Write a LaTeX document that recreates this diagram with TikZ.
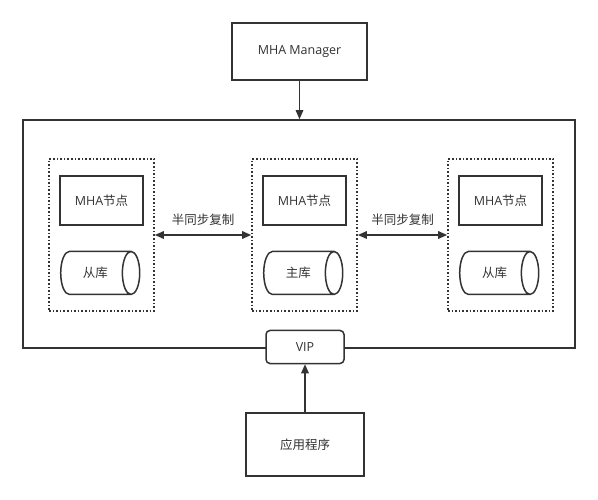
\documentclass[tikz,border=0pt]{standalone}
\usepackage{fontspec}
\setmainfont{Open Sans}
\newfontfamily\cjk{Noto Sans CJK SC}
\usepackage{tikz}
\usetikzlibrary{positioning,arrows.meta,shapes.geometric}
\definecolor{line1}{HTML}{333333}
\definecolor{text1}{HTML}{333333}

\begin{document}
\begin{tikzpicture}[
    x=1pt, y=-1pt,
    >={Triangle[length=9pt,width=7.5pt]},
    every node/.style={font=\fontsize{12.5}{14}\selectfont, text=text1},
    box/.style={draw=line1, line width=1.5pt, fill=white},
    nodebox/.style={box, minimum width=83pt, minimum height=49pt},
    dbcyl/.style={cylinder, draw=line1, line width=1.5pt, aspect=1.5,
                  minimum width=43pt, minimum height=79pt, inner sep=0pt,
                  xshift=-6pt},
    grp/.style={draw=line1, dotted, line width=1.6pt,
                minimum width=105pt, minimum height=152pt},
    flow/.style={->, line width=1.5pt, line1},
    repl/.style={<->, line width=1.5pt, line1},
]
\useasboundingbox (0,0) rectangle (598,500);

% ── Manager ──
\node[box, minimum width=135pt, minimum height=57pt]
    (mgr) at (299.5,51.5) {MHA Manager};

% ── cluster frame ──
\node[draw=line1, line width=1.5pt,
      minimum width=552pt, minimum height=228pt] (cluster) at (299,234) {};

% ── three node groups ──
\node[grp] (g1) at (101.5,235) {};
\node[grp] (g2) at (304.5,235) {};
\node[grp] (g3) at (500.5,235) {};

\node[nodebox, below=17pt of g1.north] (n1) {MHA{\cjk 节点}};
\node[nodebox, below=17pt of g2.north] (n2) {MHA{\cjk 节点}};
\node[nodebox, below=17pt of g3.north] (n3) {MHA{\cjk 节点}};

\node[dbcyl, below=25pt of n1] (db1) {\cjk 从库};
\node[dbcyl, below=25pt of n2] (db2) {\cjk 主库};
\node[dbcyl, below=25pt of n3] (db3) {\cjk 从库};

% ── replication ──
\draw[repl] (g1.east) -- node[above=5pt] {\cjk 半同步复制} (g2.west);
\draw[repl] (g2.east) -- node[above=5pt] {\cjk 半同步复制} (g3.west);

% ── VIP and client ──
\node[box, rounded corners=4pt, minimum width=78pt, minimum height=33pt]
    (vip) at (305,347) {VIP};
\node[box, minimum width=118pt, minimum height=63pt]
    (app) at (305,444.5) {\cjk 应用程序};

\draw[flow] (mgr.south) -- (mgr.south |- cluster.north);
\draw[flow] (app.north) -- (vip.south);

\end{tikzpicture}
\end{document}
